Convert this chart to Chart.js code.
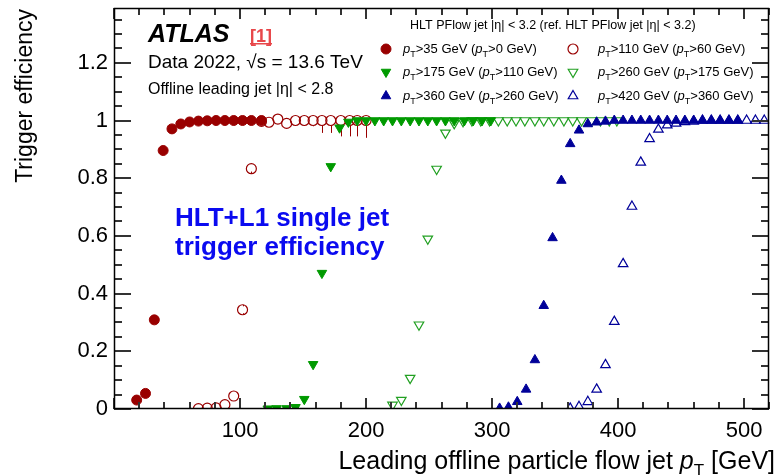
<!DOCTYPE html>
<html>
<head>
<meta charset="utf-8">
<script src="https://cdn.jsdelivr.net/npm/chart.js@4.4.1/dist/chart.umd.min.js"></script>
<style>
  body { margin: 0; background: #fff; }
  #wrap { width: 776px; height: 475px; }
</style>
</head>
<body>
<div id="wrap"><canvas id="effChart" width="776" height="475"></canvas></div>
<script>
// pT>35 GeV (ref pT>0)
const j35X = [18, 25, 32, 39, 46, 53, 60, 67, 74, 81, 88, 95, 102, 109, 117];
const j35Y = [0.031, 0.054, 0.309, 0.896, 0.971, 0.988, 0.995, 0.998, 0.999, 1, 1, 1, 1, 1, 1];

// pT>110 GeV (ref pT>60)
const j110X = [67, 74, 81, 88, 95, 102, 109, 117, 123, 130, 137, 144, 151, 158, 165, 172, 180, 187, 193, 200];
const j110Y = [0.001, 0.003, 0.004, 0.015, 0.045, 0.344, 0.833, 0.997, 0.994, 1.005, 0.99, 1, 1, 1, 1, 1, 1, 1, 1, 1];
const j110ErrLow = [0, 0, 0, 0, 0, 0.012, 0.01, 0, 0, 0, 0, 0, 0, 0.02, 0.043, 0.043, 0.055, 0.055, 0.055, 0.06];
const j110ErrHigh = [0, 0, 0, 0, 0, 0.012, 0, 0, 0, 0, 0, 0, 0, 0, 0, 0, 0, 0, 0, 0];

// pT>175 GeV (ref pT>110)
const j175X = [122, 129, 137, 144, 151, 158, 165, 172, 179, 186, 193, 200, 207, 214, 221, 228, 235, 242, 249, 256, 263, 270, 278, 285, 292, 299];
const j175Y = [0.001, 0.002, 0.002, 0.006, 0.034, 0.155, 0.471, 0.841, 0.975, 0.995, 1, 1, 1, 1, 1, 1, 1, 1, 1, 1, 1, 1, 1, 1, 1, 1];

// pT>260 GeV (ref pT>175)
const j260X = [221, 228, 235, 242, 249, 256, 263, 270, 277, 284, 291, 298, 305, 312, 319, 326, 334, 341, 349, 357, 364, 371, 379, 386, 393, 399];
const j260Y = [0.014, 0.031, 0.107, 0.292, 0.59, 0.832, 0.957, 0.99, 0.997, 1, 1, 1, 1, 1, 1, 1, 1, 1, 1, 1, 1, 1, 1, 1, 1, 1];

// pT>360 GeV (ref pT>260)
const j360X = [306, 313, 320, 327, 334, 341, 348, 355, 362, 369, 376, 383, 390, 397, 404, 411, 418, 425, 432, 439, 446, 453, 460, 467, 474, 481, 488, 495];
const j360Y = [0.002, 0.006, 0.025, 0.068, 0.17, 0.358, 0.593, 0.792, 0.919, 0.966, 0.988, 0.994, 0.997, 1, 1, 1, 1, 1, 1, 1, 1, 1, 1, 1, 1, 1, 1, 1];

// pT>420 GeV (ref pT>360)
const j420X = [362, 369, 376, 383, 390, 397, 404, 411, 418, 425, 432, 439, 446, 453, 460, 467, 474, 481, 488, 495, 502, 509, 516];
const j420Y = [0.002, 0.008, 0.025, 0.068, 0.153, 0.303, 0.503, 0.702, 0.855, 0.936, 0.969, 0.984, 0.99, 0.995, 0.997, 1, 1, 1, 1, 1, 1, 1, 1];

const legendCuts = [[35, 0], [110, 60], [175, 110], [260, 175], [360, 260], [420, 360]];
const xTickLabels = [100, 200, 300, 400, 500];
const yTickLabels = [0, 0.2, 0.4, 0.6, 0.8, 1, 1.2];

const FONT = '"Liberation Sans", Arial, sans-serif';
const RED = '#990000';
const GREEN = '#009a00';
const GREEN_OPEN = '#22a022';
const BLUE = '#000099';
const CLEAR = 'rgba(0,0,0,0)';

function series(label, xs, ys, style, extra) {
  return Object.assign({
    label: label,
    data: xs.map((x, i) => ({ x: x, y: ys[i] })),
    showLine: false,
  }, style, extra || {});
}

const datasets = [
  series('35', j35X, j35Y, { pointStyle: 'circle', pointRadius: 5, pointRotation: 0, pointBackgroundColor: RED, pointBorderColor: RED, pointBorderWidth: 1, order: 1 }),
  series('110', j110X, j110Y, { pointStyle: 'circle', pointRadius: 5, pointRotation: 0, pointBackgroundColor: CLEAR, pointBorderColor: RED, pointBorderWidth: 1.2, order: 2 },
    { errLow: j110ErrLow, errHigh: j110ErrHigh }),
  series('175', j175X, j175Y, { pointStyle: 'triangle', pointRadius: 5.5, pointRotation: 180, pointBackgroundColor: GREEN, pointBorderColor: GREEN, pointBorderWidth: 1, order: 1 }),
  series('260', j260X, j260Y, { pointStyle: 'triangle', pointRadius: 5.5, pointRotation: 180, pointBackgroundColor: CLEAR, pointBorderColor: GREEN_OPEN, pointBorderWidth: 1.2, order: 2 }),
  series('360', j360X, j360Y, { pointStyle: 'triangle', pointRadius: 5.5, pointRotation: 0, pointBackgroundColor: BLUE, pointBorderColor: BLUE, pointBorderWidth: 1, order: 1 }),
  series('420', j420X, j420Y, { pointStyle: 'triangle', pointRadius: 5.5, pointRotation: 0, pointBackgroundColor: CLEAR, pointBorderColor: BLUE, pointBorderWidth: 1.2, order: 2 }),
];

// texte avec p en italique et T en indice
function drawParts(ctx, x, y, parts, align) {
  let w = 0;
  parts.forEach((p) => { ctx.font = p.font; w += ctx.measureText(p.t).width; });
  let cx = align === 'right' ? x - w : x;
  parts.forEach((p) => {
    ctx.font = p.font;
    ctx.fillStyle = p.color || '#000';
    ctx.fillText(p.t, cx, y + (p.dy || 0));
    cx += ctx.measureText(p.t).width;
  });
  return w;
}

function ptParts(size, lo, hi) {
  const n = size + 'px ' + FONT;
  const it = 'italic ' + size + 'px ' + FONT;
  const sub = Math.round(size * 0.7) + 'px ' + FONT;
  return [
    { t: 'p', font: it }, { t: 'T', font: sub, dy: size * 0.3 }, { t: '>' + lo + ' GeV (', font: n },
    { t: 'p', font: it }, { t: 'T', font: sub, dy: size * 0.3 }, { t: '>' + hi + ' GeV)', font: n },
  ];
}

function drawMarker(ctx, ds, x, y) {
  ctx.save();
  ctx.fillStyle = ds.pointBackgroundColor;
  ctx.strokeStyle = ds.pointBorderColor;
  ctx.lineWidth = ds.pointBorderWidth;
  Chart.helpers.drawPoint(ctx, {
    pointStyle: ds.pointStyle, rotation: ds.pointRotation,
    radius: ds.pointRadius, borderWidth: ds.pointBorderWidth,
  }, x, y);
  ctx.restore();
}

const atlasDecor = {
  id: 'atlasDecor',
  beforeDatasetsDraw(chart) {
    // barres d'erreur
    const ctx = chart.ctx, xs = chart.scales.x, ys = chart.scales.y;
    chart.data.datasets.forEach((ds) => {
      if (!ds.errLow) return;
      ctx.save();
      ctx.strokeStyle = ds.pointBorderColor;
      ctx.lineWidth = 1;
      ds.data.forEach((pt, i) => {
        const px = Math.round(xs.getPixelForValue(pt.x)) + 0.5;
        const py = ys.getPixelForValue(pt.y);
        ctx.beginPath();
        if (ds.errLow[i] > 0) {
          ctx.moveTo(px, py + ds.pointRadius);
          ctx.lineTo(px, ys.getPixelForValue(pt.y - ds.errLow[i]));
        }
        if (ds.errHigh[i] > 0) {
          ctx.moveTo(px, py - ds.pointRadius);
          ctx.lineTo(px, ys.getPixelForValue(pt.y + ds.errHigh[i]));
        }
        ctx.stroke();
      });
      ctx.restore();
    });
  },
  afterDraw(chart) {
    const ctx = chart.ctx, a = chart.chartArea;
    const xs = chart.scales.x, ys = chart.scales.y;
    ctx.save();

    // cadre et graduations vers l'intérieur
    const L = Math.round(a.left), R = Math.round(a.right), T = Math.round(a.top), B = Math.round(a.bottom);
    ctx.fillStyle = '#333';
    for (let v = 0; v <= 520; v += 20) {
      const px = Math.round(xs.getPixelForValue(v)) - 1;
      const len = v % 100 === 0 ? 11 : 7;
      ctx.fillRect(px, B - len, 2, len);
      ctx.fillRect(px, T, 2, len);
    }
    for (let k = 0; k <= 27; k++) {
      const py = Math.round(ys.getPixelForValue(k * 0.05)) - 1;
      const len = k % 4 === 0 ? 17 : 8;
      ctx.fillRect(L, py, len, 2);
      ctx.fillRect(R - len, py, len, 2);
    }
    ctx.strokeStyle = '#000';
    ctx.lineWidth = 1.5;
    ctx.strokeRect(L + 0.5, T + 0.5, R - L - 1, B - T - 1);

    ctx.textBaseline = 'alphabetic';
    ctx.textAlign = 'left';

    // titre de l'axe x
    drawParts(ctx, 775, 469, [
      { t: 'Leading offline particle flow jet ', font: '25px ' + FONT },
      { t: 'p', font: 'italic 25px ' + FONT },
      { t: 'T', font: '17px ' + FONT, dy: 7 },
      { t: ' [GeV]', font: '25px ' + FONT },
    ], 'right');

    // titre de l'axe y
    ctx.save();
    ctx.translate(32, 9);
    ctx.rotate(-Math.PI / 2);
    ctx.textAlign = 'right';
    ctx.font = '23px ' + FONT;
    ctx.fillStyle = '#000';
    ctx.fillText('Trigger efficiency', 0, 0);
    ctx.restore();

    // étiquette ATLAS
    ctx.fillStyle = '#000';
    ctx.font = 'italic bold 25px ' + FONT;
    ctx.fillText('ATLAS', 148, 42);
    ctx.fillStyle = '#e8474a';
    ctx.font = 'bold 18px ' + FONT;
    ctx.fillText('[1]', 250, 42);
    const w1 = ctx.measureText('[1]').width;
    ctx.fillRect(250, 43, w1, 1.5);
    ctx.fillStyle = '#000';
    ctx.font = '19px ' + FONT;
    ctx.fillText('Data 2022, \u221As = 13.6 TeV', 148, 68);
    ctx.font = '16px ' + FONT;
    ctx.fillText('Offline leading jet |\u03b7| < 2.8', 148, 94);

    // légende
    ctx.font = '12.5px ' + FONT;
    ctx.fillText('HLT PFlow jet |\u03b7| < 3.2 (ref. HLT PFlow jet |\u03b7| < 3.2)', 410, 29);
    const markX = [386, 573], textX = [403, 598], rowY = [49, 72, 96];
    legendCuts.forEach((c, i) => {
      const col = i % 2, row = Math.floor(i / 2);
      drawMarker(ctx, chart.data.datasets[i], markX[col], rowY[row]);
      drawParts(ctx, textX[col], rowY[row] + 4, ptParts(13, c[0], c[1]), 'left');
    });

    // texte bleu
    ctx.fillStyle = '#0a0af0';
    ctx.font = 'bold 26px ' + FONT;
    ctx.fillText('HLT+L1 single jet', 175, 226);
    ctx.fillText('trigger efficiency', 175, 255);

    ctx.restore();
  },
};

const ctx = document.getElementById('effChart').getContext('2d');
new Chart(ctx, {
  type: 'scatter',
  data: { datasets: datasets },
  options: {
    responsive: false,
    animation: false,
    devicePixelRatio: 1,
    layout: { padding: { left: 0, right: 0, top: 8, bottom: 0 } },
    plugins: { legend: { display: false }, tooltip: { enabled: false } },
    scales: {
      x: {
        type: 'linear',
        min: 0,
        max: 520,
        afterFit: (s) => { s.height = 66; s.paddingLeft = 0; s.paddingRight = 0; },
        afterBuildTicks: (s) => { s.ticks = xTickLabels.map((v) => ({ value: v })); },
        ticks: { font: { size: 22, family: FONT }, color: '#000', padding: 9, maxRotation: 0, autoSkip: false },
        grid: { display: false, drawTicks: false },
        border: { display: false },
      },
      y: {
        min: 0,
        max: 1.39,
        afterFit: (s) => { s.width = 114; s.paddingTop = 0; s.paddingBottom = 0; },
        afterBuildTicks: (s) => { s.ticks = yTickLabels.map((v) => ({ value: v })); },
        ticks: {
          font: { size: 22, family: FONT },
          color: '#000',
          padding: 6,
          autoSkip: false,
          callback: (v) => (v === 0 ? '0' : v === 1 ? '1' : v.toFixed(1)),
        },
        grid: { display: false, drawTicks: false },
        border: { display: false },
      },
    },
  },
  plugins: [atlasDecor],
});
</script>
</body>
</html>
